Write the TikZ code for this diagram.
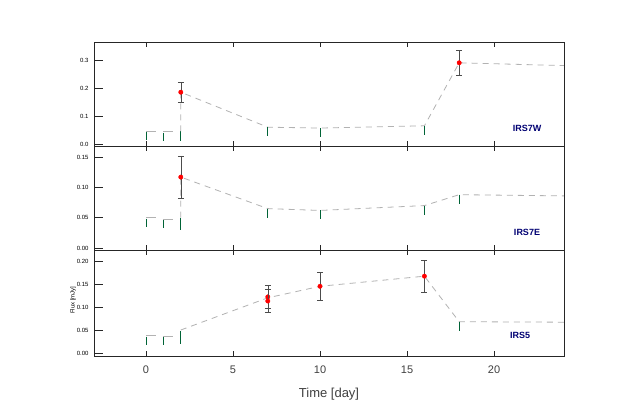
\documentclass[tikz,border=0pt]{standalone}
\usepackage{fontspec}
\setmainfont{Liberation Sans}
\begin{document}
\begin{tikzpicture}[x=1pt,y=-1pt,
  declare function={X(\t)=146+17.4*\t; Ya(\v)=144-280*\v; Yb(\v)=248-606*\v; Yc(\v)=353-460*\v;},
  ax/.style={line width=0.6pt,black!85},
  dl/.style={dashed,dash pattern=on 6pt off 5pt,gray!60,line width=0.8pt},
  lim/.style={teal!70!green!60!black,line width=0.7pt},
  err/.style={black!70,line width=0.6pt},
  red/.style={fill=red,draw=red},
  tl/.style={font=\fontsize{6}{6}\selectfont},
  lbl/.style={font=\bfseries\fontsize{9}{9}\selectfont,text=blue!45!black}]
\useasboundingbox (0,0) rectangle (627,418);
\fill[white] (0,0) rectangle (627,418);
% limit marker macro
\def\lim#1#2#3{\draw[lim] ({X(#1)},{#2(#3)+1}) -- ({X(#1)},{#2(#3)+9}); \draw[gray!60,line width=0.8pt] ({X(#1)},{#2(#3)}) -- ({X(#1)+10},{#2(#3)});}
\def\pt#1#2#3#4{\draw[err] ({X(#1)},{#2(#3+#4)}) -- ({X(#1)},{#2(#3-#4)}); \draw[err] ({X(#1)-3},{#2(#3+#4)}) -- ({X(#1)+3},{#2(#3+#4)}); \draw[err] ({X(#1)-3},{#2(#3-#4)}) -- ({X(#1)+3},{#2(#3-#4)}); \fill[red] ({X(#1)},{#2(#3)}) circle (2.2);}
% panel A
\lim{0}{Ya}{0.045}\lim{1}{Ya}{0.044}
\draw[lim] ({X(2)},{Ya(0.045)}) -- ({X(2)},{Ya(0.01)});
\draw[dl] ({X(2)},{Ya(0.045)}) -- ({X(2)},{Ya(0.185)}) -- ({X(7)},{Ya(0.06)}) -- ({X(10)},{Ya(0.057)}) -- ({X(16)},{Ya(0.065)}) -- ({X(18)},{Ya(0.29)}) -- (564,{Ya(0.28)});
\foreach \t/\v in {7/0.06,10/0.057,16/0.065}{\draw[lim] ({X(\t)},{Ya(\v)}) -- ({X(\t)},{Ya(\v)+9});}
\pt{2}{Ya}{0.185}{0.035}\pt{18}{Ya}{0.29}{0.045}
% panel B
\lim{0}{Yb}{0.05}\lim{1}{Yb}{0.048}
\draw[lim] ({X(2)},{Yb(0.05)}) -- ({X(2)},{Yb(0.03)});
\draw[dl] ({X(2)},{Yb(0.05)}) -- ({X(2)},{Yb(0.117)}) -- ({X(7)},{Yb(0.065)}) -- ({X(10)},{Yb(0.062)}) -- ({X(16)},{Yb(0.07)}) -- ({X(18)},{Yb(0.088)}) -- (564,{Yb(0.086)});
\foreach \t/\v in {7/0.065,10/0.062,16/0.07,18/0.088}{\draw[lim] ({X(\t)},{Yb(\v)}) -- ({X(\t)},{Yb(\v)+9});}
\pt{2}{Yb}{0.117}{0.035}
% panel C
\lim{0}{Yc}{0.038}\lim{1}{Yc}{0.037}
\draw[lim] ({X(2)},{Yc(0.048)}) -- ({X(2)},{Yc(0.02)});
\draw[dl] ({X(2)},{Yc(0.05)}) -- ({X(7)},{Yc(0.12)}) -- ({X(10)},{Yc(0.145)}) -- ({X(16)},{Yc(0.167)}) -- ({X(18)},{Yc(0.068)}) -- (564,{Yc(0.067)});
\draw[lim] ({X(18)},{Yc(0.068)}) -- ({X(18)},{Yc(0.068)+9});
\pt{7}{Yc}{0.122}{0.025}\pt{7}{Yc}{0.113}{0.025}\pt{10}{Yc}{0.145}{0.03}\pt{16}{Yc}{0.167}{0.035}
% frames
\draw[ax] (94,42) rectangle (564,356);
\draw[ax] (94,146) -- (564,146); \draw[ax] (94,250) -- (564,250);
\foreach \t in {0,5,10,15,20}{
  \foreach \yt/\yb in {42/146,146/250,250/356}{
    \draw[ax] ({X(\t)},\yt) -- ({X(\t)},\yt+5); \draw[ax] ({X(\t)},\yb) -- ({X(\t)},\yb-5);}
  \node[font=\fontsize{11}{11}\selectfont,text=black!75] at ({X(\t)},370) {\t};}
\foreach \v/\s in {0.0/0.0,0.1/0.1,0.2/0.2,0.3/0.3}{\draw[ax] (94,{Ya(\v)}) -- (103,{Ya(\v)}); \node[tl,anchor=east] at (92,{Ya(\v)}) {\s};}
\foreach \v/\s in {0/0.00,0.05/0.05,0.1/0.10,0.15/0.15}{\draw[ax] (94,{Yb(\v)}) -- (103,{Yb(\v)}); \node[tl,anchor=east] at (92,{Yb(\v)}) {\s};}
\foreach \v/\s in {0/0.00,0.05/0.05,0.1/0.10,0.15/0.15,0.2/0.20}{\draw[ax] (94,{Yc(\v)}) -- (103,{Yc(\v)}); \node[tl,anchor=east] at (92,{Yc(\v)}) {\s};}
\node[lbl] (l1) at (527,128) {IRS7W};
\node[lbl] (l2) at (527,232) {IRS7E};
\node[lbl] (l3) at (520,335) {IRS5};
\node[tl,rotate=90] (fl) at (73,300) {Flux [mJy]};
\node[font=\fontsize{13}{13}\selectfont,text=black!75] (tx) at (329,394) {Time [day]};
\end{tikzpicture}
\end{document}
